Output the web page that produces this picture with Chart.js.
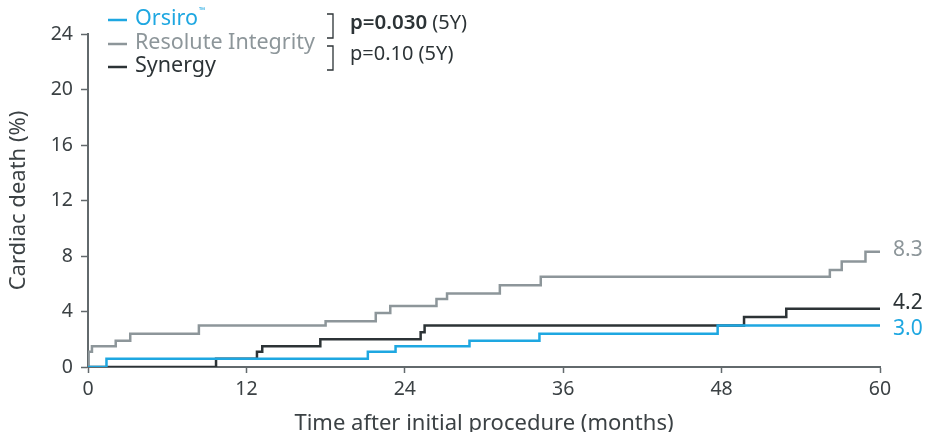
<!DOCTYPE html>
<html>
<head>
<meta charset="utf-8">
<script src="https://cdn.jsdelivr.net/npm/chart.js@4"></script>
<style>
  html, body { margin: 0; padding: 0; background: #fff; }
  #wrap { width: 926px; height: 432px; position: relative; }
</style>
</head>
<body>
<div id="wrap"><canvas id="km-chart"></canvas></div>
<script>
// Kaplan-Meier style data (months, cumulative %)
const orsiroMonths = [0, 1.4, 21.2, 23.3, 28.9, 34.2, 47.7, 60];
const orsiroValues = [0, 0.6, 1.1, 1.5, 1.9, 2.4, 3.0, 3.0];

const resoluteMonths = [0, 0.05, 0.3, 2.1, 3.2, 8.4, 18.0, 21.8, 22.9, 26.4, 27.2, 31.2, 34.3, 56.2, 57.1, 58.9, 60];
const resoluteValues = [0, 1.1, 1.5, 1.9, 2.4, 3.0, 3.3, 3.9, 4.4, 4.9, 5.3, 5.9, 6.5, 7.0, 7.6, 8.3, 8.3];

const synergyMonths = [0, 9.7, 12.8, 13.2, 17.6, 25.2, 25.5, 49.7, 52.9, 60];
const synergyValues = [0, 0.6, 1.1, 1.5, 2.0, 2.5, 3.0, 3.6, 4.2, 4.2];

const seriesNames = ['Orsiro', 'Resolute Integrity', 'Synergy'];
const endLabels = ['3.0', '8.3', '4.2'];
const pValues = ['p=0.030', 'p=0.10'];

const xTicks = [0, 12, 24, 36, 48, 60];
const yTicks = [0, 4, 8, 12, 16, 20, 24];

const BLUE = '#1ea7e1';
const GRAY = '#8d969a';
const DARK = '#2c3336';
const AXIS = '#62696c';
const TEXT = '#3b4144';
const FONT = '"Noto Sans", "Open Sans", sans-serif';

function toPoints(months, values) {
    return months.map((m, i) => ({ x: m, y: values[i] }));
}

// Legend, brackets, p-values and end labels
const annotations = {
    id: 'annotations',
    afterDatasetsDraw(chart) {
        const ctx = chart.ctx;
        const colors = [BLUE, GRAY, DARK];
        const rows = [19, 43, 66];
        ctx.save();
        ctx.textBaseline = 'middle';
        ctx.textAlign = 'left';
        ctx.font = '21.5px ' + FONT;
        rows.forEach((y, i) => {
            ctx.strokeStyle = colors[i];
            ctx.lineWidth = 2.5;
            ctx.beginPath();
            ctx.moveTo(108, y + 1);
            ctx.lineTo(127, y + 1);
            ctx.stroke();
            ctx.fillStyle = colors[i];
            ctx.fillText(seriesNames[i], 135, y);
        });
        // trademark sign
        const w = ctx.measureText(seriesNames[0]).width;
        ctx.font = '8px ' + FONT;
        ctx.fillStyle = BLUE;
        ctx.fillText('™', 135 + w + 1, 11);

        // brackets
        ctx.strokeStyle = DARK;
        ctx.lineWidth = 1.3;
        [[14, 38], [46, 70]].forEach(([a, b]) => {
            ctx.beginPath();
            ctx.moveTo(327, a);
            ctx.lineTo(333, a);
            ctx.lineTo(333, b);
            ctx.lineTo(327, b);
            ctx.stroke();
        });

        // p-values
        ctx.fillStyle = DARK;
        ctx.font = '600 20.5px ' + FONT;
        ctx.fillText(pValues[0], 350, 23);
        let pw = ctx.measureText(pValues[0]).width;
        ctx.font = '20px ' + FONT;
        ctx.fillText(' (5Y)', 350 + pw, 23);
        ctx.fillText(pValues[1], 350, 54);
        pw = ctx.measureText(pValues[1]).width;
        ctx.fillText(' (5Y)', 350 + pw, 54);

        // end-of-curve values
        ctx.font = '21px ' + FONT;
        chart.data.datasets.forEach((ds, i) => {
            const last = ds.data[ds.data.length - 1];
            const y = chart.scales.y.getPixelForValue(last.y);
            let off = 0;
            if (i === 1) off = -2;
            if (i === 2) off = -6;
            if (i === 0) off = 4;
            ctx.fillStyle = colors[i];
            ctx.fillText(endLabels[i], chart.chartArea.right + 13, y + off);
        });
        ctx.restore();
    }
};

const ctx = document.getElementById('km-chart').getContext('2d');

const kmChart = new Chart(ctx, {
    type: 'line',
    data: {
        datasets: [{
            label: seriesNames[0],
            data: toPoints(orsiroMonths, orsiroValues),
            borderColor: BLUE
        }, {
            label: seriesNames[1],
            data: toPoints(resoluteMonths, resoluteValues),
            borderColor: GRAY
        }, {
            label: seriesNames[2],
            data: toPoints(synergyMonths, synergyValues),
            borderColor: DARK
        }]
    },
    options: {
        responsive: true,
        maintainAspectRatio: false,
        animation: false,
        datasets: {
            line: {
                stepped: 'before',
                borderWidth: 2.5,
                pointRadius: 0,
                fill: false,
                tension: 0
            }
        },
        layout: {
            padding: { top: 34, right: 46, left: 0, bottom: 0 }
        },
        plugins: {
            legend: { display: false },
            tooltip: { enabled: false }
        },
        scales: {
            x: {
                type: 'linear',
                min: 0,
                max: 60,
                afterBuildTicks: scale => {
                    scale.ticks = xTicks.map(v => ({ value: v }));
                },
                afterFit: scale => { scale.height = 65; },
                border: { display: true, color: AXIS, width: 2 },
                grid: {
                    drawOnChartArea: false,
                    drawTicks: true,
                    tickLength: 6,
                    tickWidth: 1.5,
                    tickColor: AXIS
                },
                ticks: {
                    color: TEXT,
                    padding: 5,
                    maxRotation: 0,
                    font: { family: FONT, size: 19.5 }
                },
                title: {
                    display: true,
                    text: 'Time after initial procedure (months)',
                    color: TEXT,
                    padding: { top: 0, bottom: -5 },
                    font: { family: FONT, size: 22 }
                }
            },
            y: {
                min: 0,
                max: 24,
                afterBuildTicks: scale => {
                    scale.ticks = yTicks.map(v => ({ value: v }));
                },
                afterFit: scale => { scale.width = 88; },
                border: { display: true, color: AXIS, width: 2 },
                grid: {
                    drawOnChartArea: false,
                    drawTicks: true,
                    tickLength: 7,
                    tickWidth: 1.5,
                    tickColor: AXIS
                },
                ticks: {
                    color: TEXT,
                    padding: 8,
                    font: { family: FONT, size: 19.5 }
                },
                title: {
                    display: true,
                    text: 'Cardiac death (%)',
                    color: TEXT,
                    padding: { top: 6, bottom: 0 },
                    font: { family: FONT, size: 22 }
                }
            }
        }
    },
    plugins: [annotations]
});
</script>
</body>
</html>
